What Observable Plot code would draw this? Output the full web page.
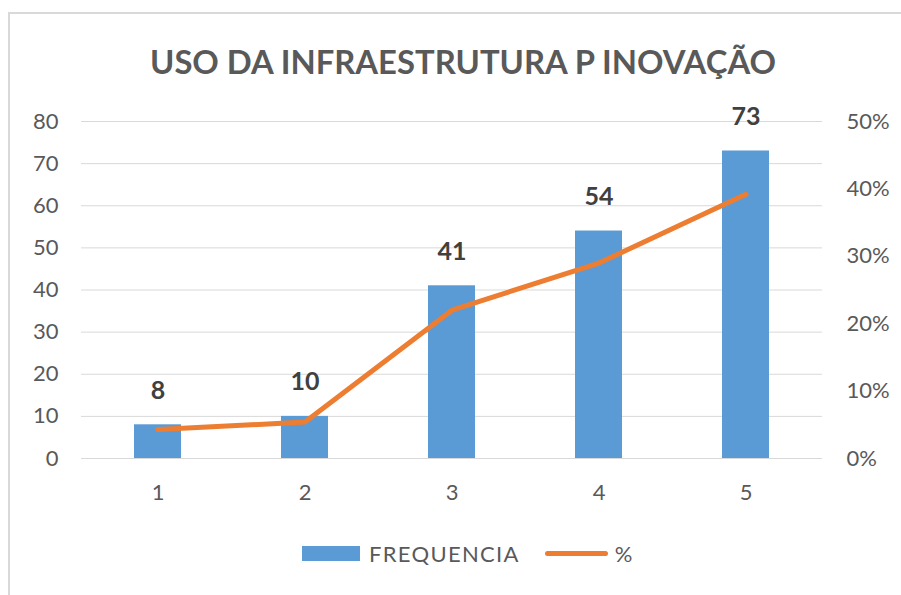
<!DOCTYPE html>
<html>
<head>
<meta charset="utf-8">
<script src="https://cdn.jsdelivr.net/npm/d3@7"></script>
<script src="https://cdn.jsdelivr.net/npm/@observablehq/plot@0.6"></script>
<style>
  html, body { margin: 0; padding: 0; background: #fff; }
  body { width: 901px; height: 595px; position: relative; overflow: hidden; font-family: Lato, "Open Sans", sans-serif; }
  #frame { position: absolute; left: 8px; top: 12px; width: 1000px; height: 700px; border: 2px solid #d9d9d9; box-sizing: border-box; }
  #title { position: absolute; left: 0; width: 926px; top: 42px; text-align: center; font-size: 32.8px; font-weight: 700; color: #595959; }
  #chart { position: absolute; left: 0; top: 0; }
  #legend { position: absolute; top: 540px; left: 302px; display: flex; align-items: center; font-size: 22px; color: #595959; }
  .sw-bar { width: 58px; height: 15px; background: #5B9BD5; margin-right: 9px; }
  .lab1 { letter-spacing: 1.3px; }
  .sw-line { width: 63px; height: 5px; border-radius: 3px; background: #ED7D31; margin-left: 25px; margin-right: 7px; }
</style>
</head>
<body>
<div id="frame"></div>
<div id="title">USO DA INFRAESTRUTURA P INOVAÇÃO</div>
<div id="chart"></div>
<div id="legend"><div class="sw-bar"></div><span class="lab1">FREQUENCIA</span><div class="sw-line"></div><span>%</span></div>
<script>
const categories = ["1", "2", "3", "4", "5"];
const frequencia = [8, 10, 41, 54, 73];
const percent = [4.3, 5.4, 22.0, 29.0, 39.2];
const leftTicks = [0, 10, 20, 30, 40, 50, 60, 70, 80];
const rightTicks = [0, 10, 20, 30, 40, 50];

const data = categories.map((c, i) => ({cat: c, freq: frequencia[i], pct: percent[i]}));
const pctToLeft = 80 / 50; // right axis 0–50% maps to left 0–80

const chart = Plot.plot({
  width: 901,
  height: 520,
  marginLeft: 84,
  marginRight: 81,
  marginTop: 121,
  marginBottom: 62,
  style: {fontFamily: "Lato, 'Open Sans', sans-serif", fontSize: "22px", color: "#595959", background: "transparent", overflow: "visible"},
  x: {domain: categories, paddingInner: 0.68, paddingOuter: 0.34, label: null},
  y: {domain: [0, 80], label: null},
  marks: [
    Plot.ruleY(leftTicks, {stroke: "#d9d9d9", strokeWidth: 1, insetLeft: -3, insetRight: -2}),
    Plot.barY(data, {x: "cat", y: "freq", fill: "#5B9BD5"}),
    Plot.lineY(data, {x: "cat", y: d => d.pct * pctToLeft, stroke: "#ED7D31", strokeWidth: 5, strokeLinecap: "round", strokeLinejoin: "round"}),
    Plot.text(data, {x: "cat", y: "freq", text: d => String(d.freq), dy: -34, fontSize: 25, fontWeight: 700, fill: "#404040"}),
    Plot.axisY(leftTicks, {anchor: "left", label: null, tickSize: 0, tickPadding: 26, fontSize: 22, fill: "#595959"}),
    Plot.axisY(rightTicks.map(t => t * pctToLeft), {anchor: "right", label: null, tickSize: 0, tickPadding: 26, fontSize: 22, fill: "#595959", textAnchor: "start", tickFormat: v => Math.round(v / pctToLeft) + "%"}),
    Plot.axisX({label: null, tickSize: 0, tickPadding: 26, fontSize: 22, fill: "#595959"})
  ]
});
chart.style.overflow = "visible";
document.getElementById("chart").appendChild(chart);
</script>
</body>
</html>
